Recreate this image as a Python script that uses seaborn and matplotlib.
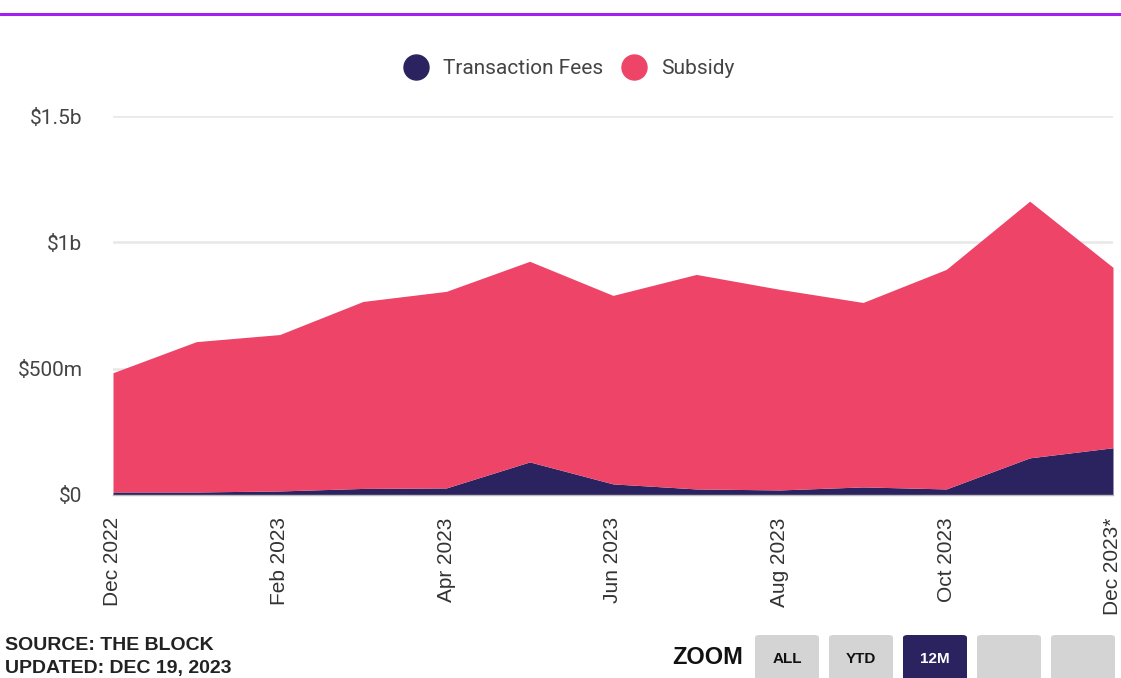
import matplotlib
matplotlib.use("Agg")
import matplotlib.pyplot as plt
from matplotlib.patches import FancyBboxPatch
from matplotlib.lines import Line2D
import numpy as np
import pandas as pd
import seaborn as sns

# monthly miner revenue, millions of USD
months = ["Dec 2022", "Jan 2023", "Feb 2023", "Mar 2023", "Apr 2023", "May 2023",
          "Jun 2023", "Jul 2023", "Aug 2023", "Sep 2023", "Oct 2023", "Nov 2023",
          "Dec 2023*"]
fees = [12, 12, 16, 26, 28, 131, 44, 24, 20, 32, 24, 147, 187]
total = [484, 607, 635, 766, 806, 925, 790, 873, 814, 762, 893, 1163, 901]
subsidy = [t - f for t, f in zip(total, fees)]

y_ticks = [0, 500, 1000, 1500]
y_labels = ["$0", "$500m", "$1b", "$1.5b"]
series_names = ["Transaction Fees", "Subsidy"]
buttons = ["ALL", "YTD", "12M", "", ""]

NAVY = "#2b2360"
PINK = "#ed4468"

df = pd.DataFrame({"month": months, "fees": fees, "subsidy": subsidy})
df["idx"] = range(len(df))

sns.set_theme(style="white")
plt.rcParams["font.family"] = ["Roboto", "DejaVu Sans"]

fig = plt.figure(figsize=(11.21, 6.78), dpi=100)
ax = fig.add_axes([113 / 1121, 1 - 495 / 678, 1000 / 1121, 379 / 678])

ax.stackplot(df["idx"], df["fees"], df["subsidy"], colors=[NAVY, PINK],
             linewidth=0, zorder=3)

ax.set_xlim(0, len(months) - 1)
ax.set_ylim(0, 1500)
ax.set_yticks(y_ticks)
ax.set_yticklabels(y_labels, fontsize=15, color="#444444")
ax.yaxis.grid(True, color="#e8e8e8", linewidth=1.8, zorder=0)
ax.tick_params(axis="y", length=0, pad=22)

tick_idx = list(range(0, len(months), 2))
ax.set_xticks(tick_idx)
ax.set_xticklabels([months[i] for i in tick_idx], rotation=90,
                   fontsize=15, color="#333333", family=["Liberation Sans", "DejaVu Sans"])
ax.tick_params(axis="x", length=0, pad=16)
for lab in ax.get_xticklabels():
    lab.set_ha("center")
    lab.set_va("top")

sns.despine(ax=ax, left=True, top=True, right=True)
ax.spines["bottom"].set_color("#bbbbbb")
ax.spines["bottom"].set_linewidth(1.0)
ax.spines["bottom"].set_zorder(4)

# legend
handles = [Line2D([], [], marker="o", linestyle="", markersize=18, color=c)
           for c in (NAVY, PINK)]
fig.legend(handles, series_names, loc="center", bbox_to_anchor=(565 / 1121, 1 - 69 / 678),
           ncol=2, frameon=False, fontsize=15, handletextpad=0.3, columnspacing=0.5,
           labelcolor="#444444")

# purple rule at the top
fig.add_artist(Line2D([0, 1], [1 - 14 / 678, 1 - 14 / 678], color="#a11ff0",
                      linewidth=2.2, transform=fig.transFigure))

# footer
bold = dict(family=["Liberation Sans Narrow", "Liberation Sans", "DejaVu Sans"],
            fontweight="bold", color="#222222")
fig.text(5 / 1121, 1 - 646 / 678, "SOURCE: THE BLOCK", fontsize=14, va="center", **bold)
fig.text(5 / 1121, 1 - 668 / 678, "UPDATED: DEC 19, 2023", fontsize=14, va="center", **bold)
fig.text(743 / 1121, 1 - 657 / 678, "ZOOM", fontsize=17, ha="right", va="center",
         family=["Liberation Sans", "DejaVu Sans"], fontweight="bold", color="#111111")

for i, name in enumerate(buttons):
    x0 = 755 + i * 74
    active = name == "12M"
    box = FancyBboxPatch((x0 / 1121, 1 - 685 / 678), 64 / 1121, 50 / 678,
                         boxstyle="round,pad=0,rounding_size=0.004",
                         transform=fig.transFigure, facecolor=NAVY if active else "#d4d4d4",
                         edgecolor="none")
    fig.add_artist(box)
    if name:
        fig.text((x0 + 32) / 1121, 1 - 659 / 678, name, fontsize=11, ha="center", va="center",
                 family=["Liberation Sans", "DejaVu Sans"], fontweight="bold",
                 color="white" if active else "#111111")

fig.savefig("out.png", dpi=100)
